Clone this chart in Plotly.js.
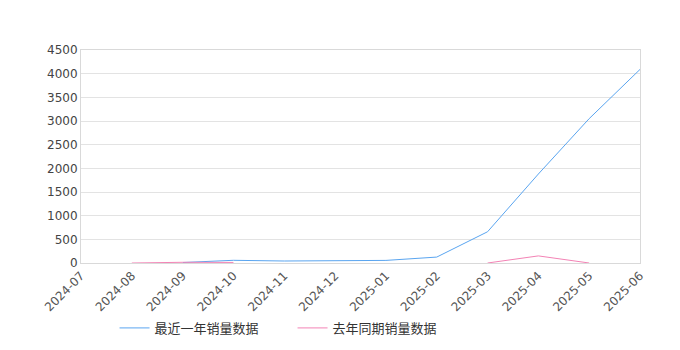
<!DOCTYPE html>
<html><head><meta charset="utf-8">
<script src="https://cdn.plot.ly/plotly-3.0.1.min.js"></script>
<style>html,body{margin:0;padding:0;background:#fff}#c{width:680px;height:350px}</style>
</head><body><div id="c"></div>
<script>
var months = ["2024-07","2024-08","2024-09","2024-10","2024-11","2024-12","2025-01","2025-02","2025-03","2025-04","2025-05","2025-06"];
var recentSales = [null, null, 10, 57, 42, 52, 55, 125, 660, 1880, 3050, 4090];
var lastYearSales = [null, 0, 15, 12, null, null, null, null, 0, 150, 0, null];
var seriesNames = ["最近一年销量数据", "去年同期销量数据"];
var yTicks = [0,500,1000,1500,2000,2500,3000,3500,4000,4500];

var traces = [
  {x: months, y: recentSales, name: seriesNames[0], type: "scatter", mode: "lines",
   line: {color: "#5aa5f0", width: 1}, connectgaps: false},
  {x: months, y: lastYearSales, name: seriesNames[1], type: "scatter", mode: "lines",
   line: {color: "#f383b5", width: 1}, connectgaps: false}
];
var layout = {
  width: 680, height: 350,
  margin: {l: 81, r: 40, t: 50, b: 87, autoexpand: false},
  paper_bgcolor: "#fff", plot_bgcolor: "#fff",
  font: {family: "DejaVu Sans, sans-serif", color: "#444", size: 11},
  showlegend: true,
  legend: {orientation: "h", x: 0.06, xanchor: "left", y: -0.305, yanchor: "middle",
           font: {family: "Noto Sans CJK SC, sans-serif", size: 13, color: "#333"},
           entrywidth: 133, entrywidthmode: "pixels", tracegroupgap: 0},
  xaxis: {type: "category", categoryarray: months, range: [0, 11], automargin: false,
          tickangle: -45, showgrid: false, showline: true, linecolor: "#d9d9d9", mirror: true,
          ticks: "", tickfont: {size: 12, color: "#555"}, zeroline: false},
  yaxis: {range: [0, 4500], tickvals: yTicks, showgrid: true, gridcolor: "#e3e3e3", automargin: false,
          showline: true, linecolor: "#d9d9d9", mirror: true, ticks: "", zeroline: false,
          tickfont: {size: 12, color: "#444"}}
};
Plotly.newPlot("c", traces, layout, {displayModeBar: false, staticPlot: true});
</script></body></html>
